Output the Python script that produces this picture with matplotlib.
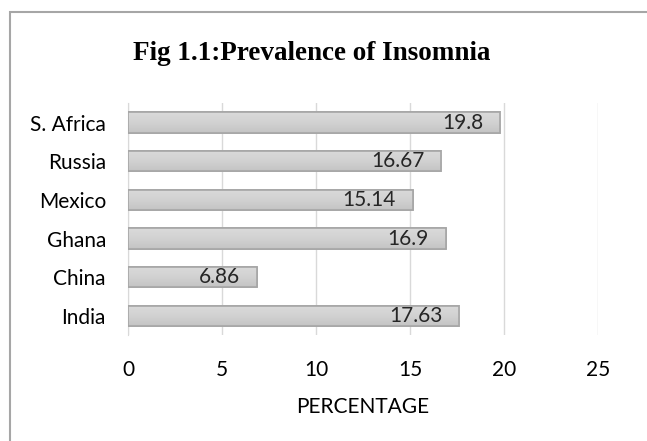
import numpy as np
import matplotlib.pyplot as plt
from matplotlib.patches import Rectangle
from matplotlib.colors import LinearSegmentedColormap

countries = ["India", "China", "Ghana", "Mexico", "Russia", "S. Africa"]
values = [17.63, 6.86, 16.9, 15.14, 16.67, 19.8]
labels = ["17.63", "6.86", "16.9", "15.14", "16.67", "19.8"]
xticks = [0, 5, 10, 15, 20, 25]

fig = plt.figure(figsize=(6.47, 4.41), dpi=100)
ax = fig.add_axes([0.198, 0.240, 0.726, 0.526])

# outer chart border (cut off on the right and bottom)
fig.patches.append(Rectangle((0.0147, -0.05), 1.2, 0.9717 + 0.05,
                             transform=fig.transFigure, fill=False,
                             edgecolor="#a6a6a6", linewidth=1.5))

bars = ax.barh(range(len(countries)), values, height=0.52,
               color="#d0d0d0", edgecolor="#a6a6a6", linewidth=1.2, zorder=3)

# subtle vertical gradient inside bars
grad = LinearSegmentedColormap.from_list("g", ["#c4c4c4", "#d2d2d2", "#dadada"])
for b in bars:
    x0, y0, w, h = b.get_x(), b.get_y(), b.get_width(), b.get_height()
    im = ax.imshow(np.linspace(0, 1, 50).reshape(-1, 1), cmap=grad,
                   extent=(x0, x0 + w, y0, y0 + h), aspect="auto",
                   origin="lower", zorder=3.1)
    im.set_clip_path(b)
    ax.add_patch(Rectangle((x0, y0), w, h, fill=False, edgecolor="#a6a6a6",
                           linewidth=1.2, zorder=3.2))

for b, lab in zip(bars, labels):
    ax.annotate(lab, (b.get_width(), b.get_y() + b.get_height() / 2),
                xytext=(-12, 0), textcoords="offset points",
                ha="right", va="center", fontsize=15, family="Lato",
                color="#262626", zorder=4)

ax.set_xlim(0, 25)
ax.set_ylim(-0.5, len(countries) - 0.5)
ax.set_xticks(xticks)
ax.set_xticklabels([str(t) for t in xticks], family="Lato", fontsize=15)
ax.set_yticks(range(len(countries)))
ax.set_yticklabels(countries, family="Lato", fontsize=15)
ax.tick_params(length=0, pad=16)
ax.tick_params(axis="x", pad=18)
ax.grid(axis="x", color="#d9d9d9", linewidth=1, zorder=0)
for s in ["top", "right", "bottom"]:
    ax.spines[s].set_visible(False)
ax.spines["left"].set_color("#d9d9d9")

ax.set_xlabel("PERCENTAGE", family="Lato", fontsize=15, labelpad=12)
fig.text(0.482, 0.864, "Fig 1.1:Prevalence of Insomnia", ha="center",
         va="baseline", family="Liberation Serif", weight="bold", fontsize=19.5)

fig.savefig("out.png", dpi=100)
